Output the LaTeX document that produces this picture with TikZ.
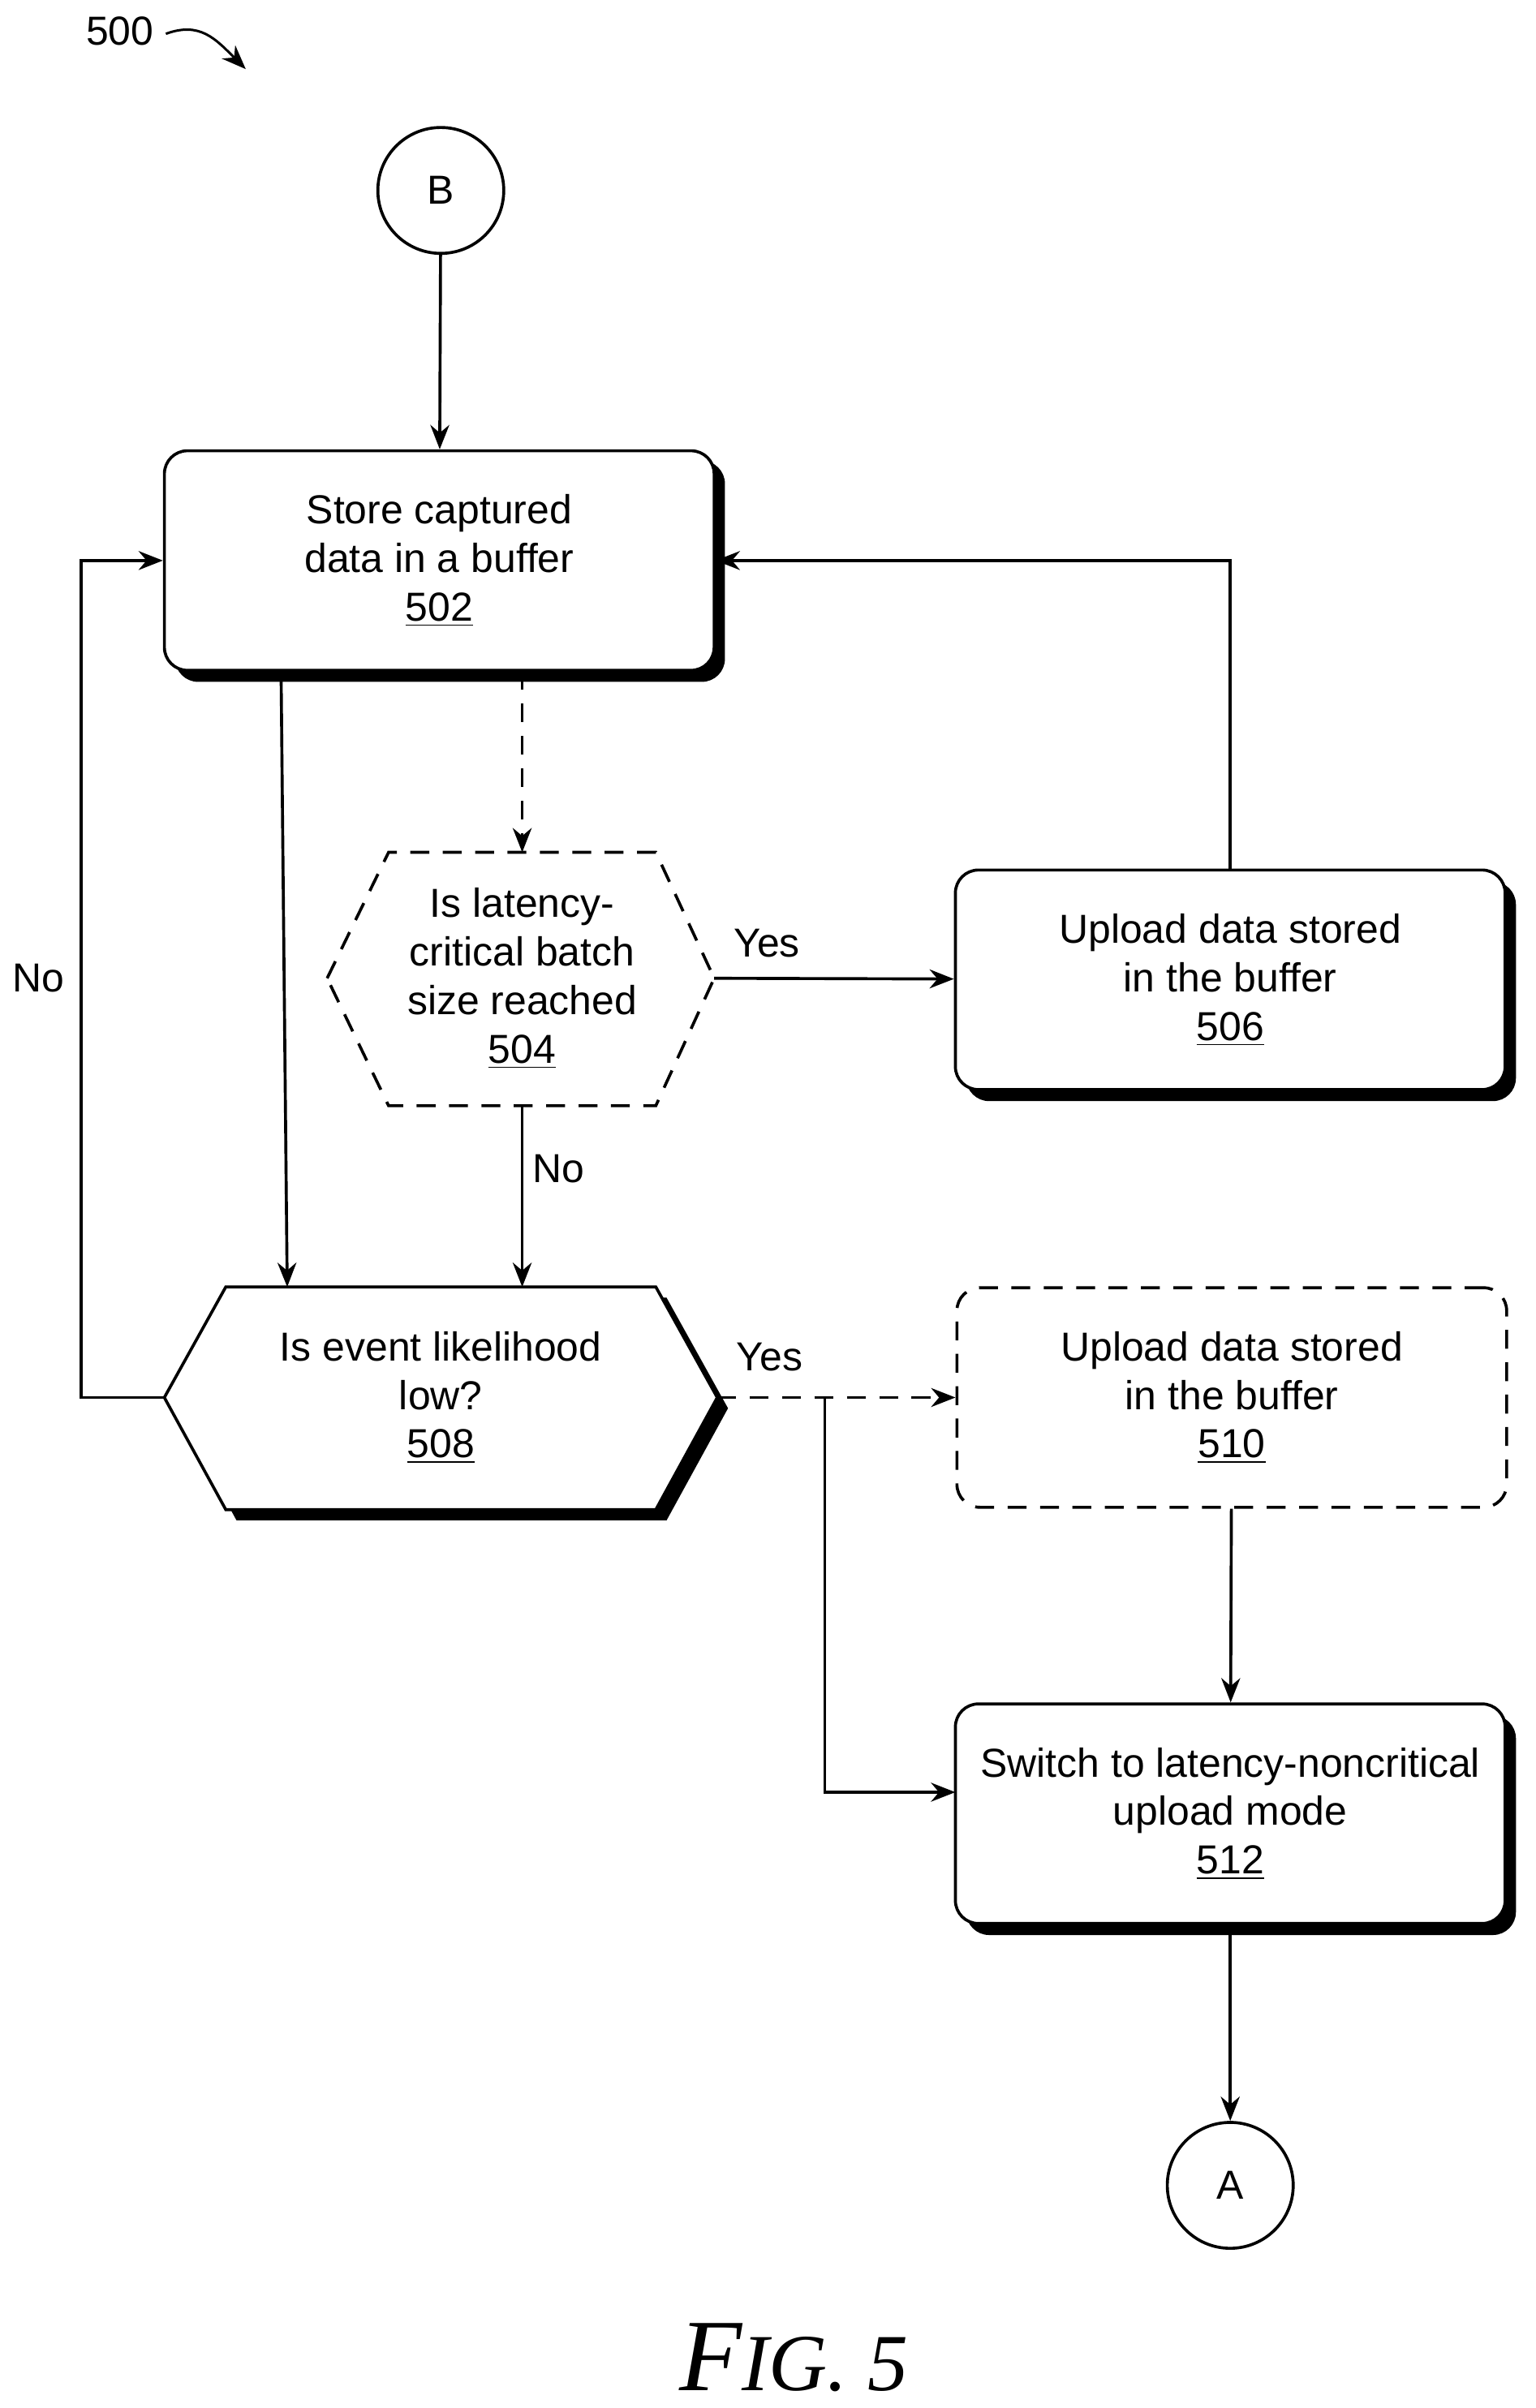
\documentclass[tikz,border=0pt]{standalone}
\usepackage{fontspec}
\setmainfont{Liberation Sans}
\newfontfamily\figfont{Liberation Serif}
\usetikzlibrary{arrows.meta}
\begin{document}
\begin{tikzpicture}[x=0.02cm,y=-0.02cm,
		every node/.style={font=\fontsize{15}{18}\selectfont},
		arr/.style={-{Stealth[length=9pt,width=7pt]},line width=1.1pt},
		dsh/.style={dash pattern=on 7pt off 5pt},
		procbox/.style={draw,line width=1.1pt,rounded corners=0.3cm,fill=white,
			minimum width=7.16cm,minimum height=2.86cm,align=center},
		conn/.style={circle,draw,line width=1.1pt,minimum size=1.64cm},
		shad/.style={fill=black,rounded corners=0.3cm}
		]
		\useasboundingbox (0,0) rectangle (1000,1568);
		
		% label
		\node (lbl) at (78,20) {500};
		\draw[arr,line width=0.9pt] (108,22) .. controls (130,14) and (140,25) .. (160,45);
		
		% connectors
		\node[conn] (B) at (287,124) {B};
		\node[conn] (A) at (801,1423) {A};
		
		% boxes with shadows
		\fill[shad] (114,300) rectangle (472,444);
		\node[procbox] (s502) at (286,365) {Store captured\\data in a buffer\\\underline{502}};
		\fill[shad] (629,574) rectangle (987,717);
		\node[procbox] (s506) at (801,638) {Upload data stored\\in the buffer\\\underline{506}};
		\node[procbox,dsh] (s510) at (802,910) {Upload data stored\\in the buffer\\\underline{510}};
		\fill[shad] (629,1117) rectangle (987,1260);
		\node[procbox] (s512) at (801,1181) {Switch to latency-noncritical\\upload mode\\\underline{512}};
		
		% decision 504 (dashed hexagon)
		\draw[line width=1.1pt,dsh,fill=white] (213,637) -- (253,555) -- (427,555) -- (465,637)
			-- (427,720) -- (253,720) -- cycle;
		\node[align=center] (d504) at (340,637) {Is latency-\\critical batch\\size reached\\\underline{504}};
		\coordinate (d504t) at (340,555);
		\coordinate (d504b) at (340,720);
		\coordinate (d504r) at (465,637);
		
		% decision 508 (hexagon with shadow)
		\fill (114,917) -- (154,845) -- (434,845) -- (474,917) -- (434,990) -- (154,990) -- cycle;
		\draw[line width=1.1pt,fill=white] (107,910) -- (147,838) -- (427,838) -- (467,910)
			-- (427,983) -- (147,983) -- cycle;
		\node[align=center] (d508) at (287,910) {Is event likelihood\\low?\\\underline{508}};
		\coordinate (d508l) at (107,910);
		\coordinate (d508r) at (467,910);
		\coordinate (j) at (537,910);
		
		% flow
		\draw[arr] (B) -- (s502);
		\draw[arr,dsh] (340,437) -- (d504t);
		\draw[arr] (183,437) -- (187,838);
		\draw[arr] (d504b) -- (340,838) node[pos=0.35,right] {No};
		\draw[arr] (d504r) -- (s506) node[pos=0.22,above=4pt] {Yes};
		\draw[arr] (s506.north) |- (s502.east);
		\draw[arr] (d508l) -- (53,910) -- (53,365) -- (s502.west);
		\node at (25,637) {No};
		\draw[arr,dsh] (d508r) -- (s510) node[pos=0.22,above=6pt] {Yes};
		\draw[arr] (j) |- (622,1167);
		\draw[arr] (s510) -- (s512);
		\draw[arr] (s512) -- (A);
		
		\node[font=\figfont\itshape] (fig) at (517,1535) {\fontsize{38}{40}\selectfont F\fontsize{30}{32}\selectfont IG. 5};
	\end{tikzpicture}
\end{document}
